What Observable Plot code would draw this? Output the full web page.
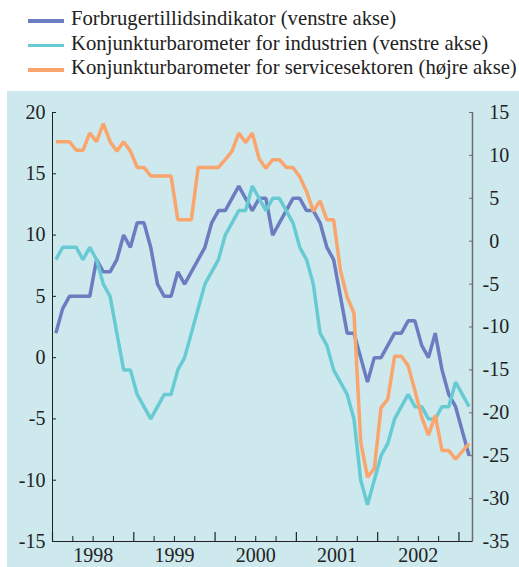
<!DOCTYPE html>
<html>
<head>
<meta charset="utf-8">
<script src="https://cdn.jsdelivr.net/npm/d3@7"></script>
<script src="https://cdn.jsdelivr.net/npm/@observablehq/plot@0.6"></script>
<style>
  html, body { margin: 0; padding: 0; background: #ffffff; }
  body { width: 519px; height: 567px; position: relative; overflow: hidden; font-family: "Liberation Serif", "Times New Roman", serif; }
  #legend { position: absolute; left: 0; top: 0; width: 519px; height: 91px; }
  .row { position: absolute; left: 71px; font-size: 20.7px; line-height: 24.5px; color: #222; white-space: nowrap; }
  .sw { position: absolute; left: 28px; width: 36px; height: 3.5px; }
  #chart { position: absolute; left: 7px; top: 91px; width: 512px; height: 476px; background: #cde9ee; }
</style>
</head>
<body>
<div id="legend"></div>
<div id="chart"></div>
<script>
// Monthly observations, January 1998 – February 2003
const startYear = 1998;
const seriesNames = [
  "Forbrugertillidsindikator (venstre akse)",
  "Konjunkturbarometer for industrien (venstre akse)",
  "Konjunkturbarometer for servicesektoren (højre akse)"
];
const seriesColors = ["#6b7dc0", "#68cbd3", "#f9a56d"];

// Forbrugertillidsindikator (left axis)
const forbruger = [
  2, 4, 5, 5, 5, 5, 8, 7, 7, 8, 10, 9,
  11, 11, 9, 6, 5, 5, 7, 6, 7, 8, 9, 11,
  12, 12, 13, 14, 13, 12, 13, 13, 10, 11, 12, 13,
  13, 12, 12, 11, 9, 8, 5, 2, 2, 0, -2, 0,
  0, 1, 2, 2, 3, 3, 1, 0, 2, -1, -3, -4,
  -6, -8
];
// Konjunkturbarometer for industrien (left axis)
const industri = [
  8, 9, 9, 9, 8, 9, 8, 6, 5, 2, -1, -1,
  -3, -4, -5, -4, -3, -3, -1, 0, 2, 4, 6, 7,
  8, 10, 11, 12, 12, 14, 13, 12, 13, 13, 12, 11,
  9, 8, 6, 2, 1, -1, -2, -3, -5, -10, -12, -10,
  -8, -7, -5, -4, -3, -4, -4, -5, -5, -4, -4, -2,
  -3, -4
];
// Konjunkturbarometer for servicesektoren (right axis)
const service = [
  11.6, 11.6, 11.6, 10.6, 10.6, 12.6, 11.6, 13.7, 11.6, 10.5, 11.6, 10.5,
  8.6, 8.6, 7.6, 7.6, 7.6, 7.6, 2.5, 2.5, 2.5, 8.6, 8.6, 8.6,
  8.6, 9.5, 10.5, 12.6, 11.5, 12.6, 9.6, 8.5, 9.5, 9.5, 8.6, 8.6,
  7.5, 5.8, 3.5, 4.7, 2.5, 2.5, -3.4, -6.5, -8.4, -23.4, -27.5, -26.5,
  -19.4, -18.4, -13.4, -13.4, -14.5, -17.4, -20.5, -22.6, -20.3, -24.4, -24.4, -25.4,
  -24.5, -23.6
];

const leftTicks = [-15, -10, -5, 0, 5, 10, 15, 20];
const rightTicks = [-35, -30, -25, -20, -15, -10, -5, 0, 5, 10, 15];
const yearLabels = [1998, 1999, 2000, 2001, 2002];
const yearBoundaries = [1998, 1999, 2000, 2001, 2002, 2003];
const xDomain = [1998, 2003 + 2 / 12];
const leftDomain = [-15, 20];
const rightDomain = [-35, 15];

// map right-axis values onto the left-axis scale
const toLeft = r => leftDomain[0] + (r - rightDomain[0]) * (leftDomain[1] - leftDomain[0]) / (rightDomain[1] - rightDomain[0]);
const fromLeft = v => rightDomain[0] + (v - leftDomain[0]) * (rightDomain[1] - rightDomain[0]) / (leftDomain[1] - leftDomain[0]);
const monthX = i => startYear + (i + 0.5) / 12;

const quarters = [];
for (let y = 1998; y < 2003; y++) for (const q of [0.25, 0.5, 0.75]) quarters.push(y + q);

const data = [
  ...forbruger.map((v, i) => ({t: monthX(i), v, s: 0})),
  ...industri.map((v, i) => ({t: monthX(i), v, s: 1})),
  ...service.map((v, i) => ({t: monthX(i), v: toLeft(v), s: 2}))
];

// legend
const legend = document.getElementById("legend");
seriesNames.forEach((name, i) => {
  const sw = document.createElement("div");
  sw.className = "sw";
  sw.style.top = (19 + i * 24.6) + "px";
  sw.style.background = seriesColors[i];
  legend.appendChild(sw);
  const row = document.createElement("div");
  row.className = "row";
  row.style.top = (6 + i * 24.6) + "px";
  row.textContent = name;
  legend.appendChild(row);
});

const ink = "#222";
const chart = Plot.plot({
  width: 512,
  height: 476,
  marginLeft: 45,
  marginRight: 47,
  marginTop: 21,
  marginBottom: 26,
  x: {type: "linear", domain: xDomain, axis: null},
  y: {type: "linear", domain: leftDomain, axis: null},
  style: {background: "transparent", fontFamily: "'Liberation Serif', 'Times New Roman', serif", fontSize: "20px", color: ink, overflow: "visible"},
  marks: [
    // left axis
    Plot.axisY(leftTicks, {anchor: "left", label: null, tickSize: 0, tickPadding: 7, fontSize: 20, tickFormat: d => String(d), fill: ink}),
    Plot.axisY(leftTicks, {anchor: "left", label: null, tickSize: -4, tickFormat: () => "", stroke: ink}),
    // right axis
    Plot.axisY(rightTicks.map(toLeft), {anchor: "right", label: null, tickSize: 0, tickPadding: 10, textAnchor: "start", fontSize: 20, fill: ink,
      tickFormat: v => { const r = Math.round(fromLeft(v)); return r < 0 ? "-" + Math.abs(r) : "\u2004" + r; }}),
    Plot.axisY(rightTicks.map(toLeft), {anchor: "right", label: null, tickSize: -4, tickFormat: () => "", stroke: "#6e6e6e"}),
    // x axis
    Plot.axisX(quarters, {label: null, tickSize: -5, tickFormat: () => "", stroke: ink}),
    Plot.axisX(yearBoundaries, {label: null, tickSize: -9, tickFormat: () => "", stroke: ink, strokeWidth: 1.2}),
    Plot.axisX(yearLabels.map(y => y + 0.5), {label: null, tickSize: 0, tickPadding: 6, fontSize: 20, fill: ink, tickFormat: d => String(Math.floor(d))}),
    // axis lines
    Plot.ruleX([xDomain[0]], {stroke: ink, strokeWidth: 1}),
    Plot.ruleX([xDomain[1]], {stroke: "#6e6e6e", strokeWidth: 1.5}),
    Plot.ruleY([leftDomain[0]], {stroke: ink, strokeWidth: 1}),
    // series
    Plot.lineY(data.filter(d => d.s === 0), {x: "t", y: "v", stroke: seriesColors[0], strokeWidth: 3.5, strokeLinejoin: "miter", strokeLinecap: "butt"}),
    Plot.lineY(data.filter(d => d.s === 1), {x: "t", y: "v", stroke: seriesColors[1], strokeWidth: 3.5, strokeLinejoin: "miter", strokeLinecap: "butt"}),
    Plot.lineY(data.filter(d => d.s === 2), {x: "t", y: "v", stroke: seriesColors[2], strokeWidth: 3.5, strokeLinejoin: "miter", strokeLinecap: "butt"})
  ]
});
document.getElementById("chart").appendChild(chart);
</script>
</body>
</html>
